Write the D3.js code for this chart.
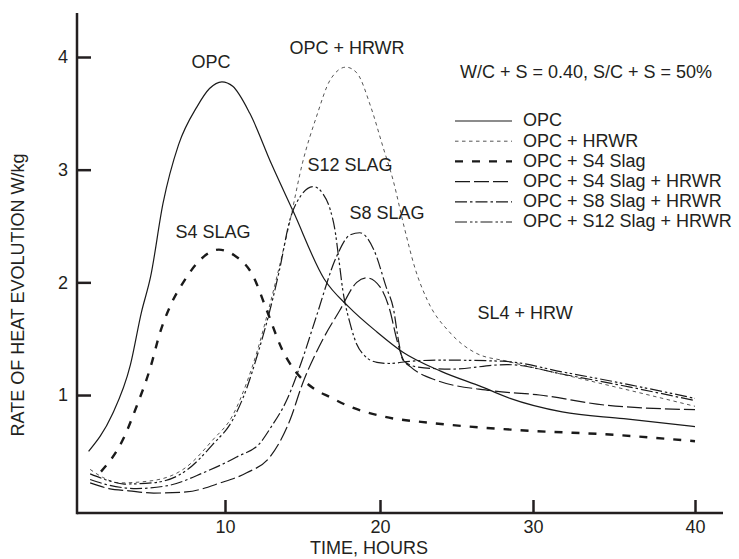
<!DOCTYPE html>
<html>
<head>
<meta charset="utf-8">
<script src="https://cdn.jsdelivr.net/npm/d3@7/dist/d3.min.js"></script>
<style>
  html, body { margin: 0; padding: 0; background: #fff; }
  svg text { font-family: "Liberation Sans", Arial, Helvetica, sans-serif; font-size: 18px; fill: #231f20; }
</style>
</head>
<body>
<svg id="chart" width="739" height="559"></svg>
<script>
// Rate of heat evolution (W/kg) against time (hours), as [hour, value] pairs
const opc = [[1.2,0.50],[2.7,0.82],[3.9,1.27],[4.6,1.73],[5.2,2.05],[6.0,2.70],[7.0,3.22],[8.2,3.56],[9.0,3.72],[9.8,3.78],[10.5,3.74],[11.6,3.50],[13.0,3.05],[14.4,2.63],[16.4,2.03],[18.0,1.78],[19.8,1.56],[21.5,1.38],[24.0,1.21],[26.7,1.07],[28.5,0.97],[31.8,0.85],[35.6,0.79],[40.0,0.72]];
const opcHrwr = [[1.3,0.34],[2.1,0.27],[3.2,0.22],[5.3,0.24],[7.5,0.36],[9.2,0.60],[10.5,0.82],[11.4,1.11],[12.1,1.40],[12.7,1.70],[13.4,2.08],[14.2,2.55],[15.0,3.06],[15.9,3.47],[16.8,3.80],[17.8,3.91],[18.5,3.86],[19.4,3.56],[20.2,3.20],[20.85,2.91],[21.6,2.48],[22.3,2.12],[23.1,1.84],[24.6,1.55],[26.3,1.37],[28.3,1.30],[32.5,1.16],[36.0,1.04],[40.0,0.90]];
const opcS4 = [[2.0,0.32],[3.4,0.60],[4.3,0.90],[5.2,1.25],[5.8,1.55],[6.5,1.80],[7.4,2.02],[8.4,2.20],[9.6,2.29],[10.6,2.24],[11.8,2.06],[12.7,1.75],[13.7,1.40],[14.6,1.20],[15.7,1.06],[16.8,0.98],[18.0,0.90],[20.2,0.81],[23.5,0.75],[28.9,0.69],[35.2,0.645],[40.0,0.59]];
const opcS4Hrwr = [[1.3,0.22],[2.5,0.17],[3.8,0.15],[5.4,0.13],[7.5,0.14],[9.7,0.22],[11.4,0.31],[12.9,0.45],[14.2,0.78],[15.0,1.10],[16.3,1.49],[17.4,1.75],[18.5,2.00],[19.15,2.04],[20.0,1.96],[20.65,1.75],[21.1,1.49],[21.5,1.32],[22.0,1.25],[23.7,1.13],[27.2,1.04],[30.4,1.00],[34.5,0.91],[40.0,0.87]];
const opcS8Hrwr = [[1.3,0.25],[2.5,0.20],[4.3,0.17],[6.45,0.20],[8.6,0.31],[10.75,0.45],[12.3,0.58],[12.9,0.70],[14.0,0.96],[15.0,1.32],[15.9,1.70],[17.2,2.23],[18.06,2.42],[18.7,2.44],[19.6,2.29],[20.4,1.96],[20.9,1.75],[21.2,1.49],[21.5,1.31],[22.4,1.25],[24.6,1.23],[28.3,1.27],[32.0,1.18],[36.0,1.07],[40.0,0.95]];
const opcS12Hrwr = [[1.3,0.30],[2.5,0.24],[3.5,0.21],[5.3,0.22],[7.5,0.33],[9.2,0.56],[10.5,0.78],[11.4,1.06],[12.1,1.36],[12.8,1.70],[13.5,2.10],[14.2,2.56],[14.85,2.76],[15.7,2.85],[16.3,2.79],[16.8,2.64],[17.1,2.46],[17.35,2.20],[17.6,1.93],[18.06,1.64],[18.5,1.45],[19.0,1.35],[19.8,1.29],[20.6,1.28],[22.0,1.30],[24.0,1.31],[28.0,1.30],[32.0,1.20],[36.0,1.09],[40.0,0.97]];

// Legend entries, in drawing order
const seriesNames = ["OPC", "OPC + HRWR", "OPC + S4 Slag", "OPC + S4 Slag + HRWR", "OPC + S8 Slag + HRWR", "OPC + S12 Slag + HRWR"];
const seriesData = [opc, opcHrwr, opcS4, opcS4Hrwr, opcS8Hrwr, opcS12Hrwr];

// Axis ticks and titles
const xTickValues = [10, 20, 30, 40];
const yTickValues = [1, 2, 3, 4];
const xTitle = "TIME, HOURS";
const yTitle = "RATE OF HEAT EVOLUTION W/kg";
const mixNote = "W/C + S = 0.40, S/C + S = 50%";

// Curve call-outs, anchored in data units [hour, value]
const curveLabelText = ["OPC", "OPC + HRWR", "S12 SLAG", "S8 SLAG", "S4 SLAG", "SL4 + HRW"];
const curveLabelAt = [[9.1, 3.96], [17.87, 4.08], [18.06, 3.04], [20.46, 2.62], [9.23, 2.45], [29.48, 1.73]];

// Stroke styles per series
const styles = [
  { width: 1.2, dash: null,                 color: "#1a1a1a" },
  { width: 1.0, dash: "3.5,3.5",            color: "#555" },
  { width: 2.4, dash: "8,9",                color: "#1a1a1a" },
  { width: 1.2, dash: "15,4",               color: "#1a1a1a" },
  { width: 1.2, dash: "12,3,2.5,3",         color: "#1a1a1a" },
  { width: 1.2, dash: "12,3,2.5,2.5,2.5,3", color: "#1a1a1a" }
];

const svg = d3.select("#chart");
const axisColor = "#231f20";
const left = 77, baseY = 513, topY = 13, rightX = 723;

// Hour axis: piecewise linear through the tick marks
const x = d3.scaleLinear().domain(xTickValues).range([225, 380, 533, 695]);
const y = d3.scaleLinear().domain([0, 4]).range([507.7, 57]);

// Axes
const gx = svg.append("g").attr("transform", `translate(0,${baseY})`)
  .call(d3.axisBottom(x).tickValues(xTickValues).tickFormat(d3.format("d"))
    .tickSizeInner(-13).tickSizeOuter(0).tickPadding(7));
const gy = svg.append("g").attr("transform", `translate(${left},0)`)
  .call(d3.axisLeft(y).tickValues(yTickValues).tickFormat(d3.format("d"))
    .tickSizeInner(-14).tickSizeOuter(0).tickPadding(9));
[gx, gy].forEach(g => {
  g.select(".domain").remove();
  g.selectAll(".tick line").attr("stroke", axisColor).attr("stroke-width", 2.5);
  g.selectAll(".tick text").attr("font-size", 18).attr("font-family", null).style("fill", axisColor);
});
svg.append("line").attr("x1", left).attr("x2", rightX).attr("y1", baseY).attr("y2", baseY)
  .attr("stroke", axisColor).attr("stroke-width", 2.5);
svg.append("line").attr("x1", left).attr("x2", left).attr("y1", topY).attr("y2", baseY + 1.25)
  .attr("stroke", axisColor).attr("stroke-width", 2.5);

// Axis titles
svg.append("text").attr("x", 369).attr("y", 554).attr("text-anchor", "middle").text(xTitle);
svg.append("text").attr("transform", "translate(24,295) rotate(-90)").attr("text-anchor", "middle").text(yTitle);

// Curves
const line = d3.line().x(d => x(d[0])).y(d => y(d[1])).curve(d3.curveMonotoneX);
seriesData.forEach((data, i) => {
  const s = styles[i];
  svg.append("path").datum(data)
    .attr("d", line)
    .attr("fill", "none")
    .attr("stroke", s.color)
    .attr("stroke-width", s.width)
    .attr("stroke-dasharray", s.dash)
    .attr("stroke-linejoin", "round");
});

// Curve call-outs
curveLabelText.forEach((t, i) => {
  svg.append("text")
    .attr("x", x(curveLabelAt[i][0]))
    .attr("y", y(curveLabelAt[i][1]))
    .attr("dy", "0.35em")
    .attr("text-anchor", "middle")
    .text(t);
});

// Mix note and legend
svg.append("text").attr("x", 460).attr("y", 72).attr("dy", "0.35em").text(mixNote);
const legend = svg.append("g");
seriesNames.forEach((name, i) => {
  const s = styles[i];
  const ly = 120 + i * 20.2;
  legend.append("line").attr("x1", 455).attr("x2", 512).attr("y1", ly + 1).attr("y2", ly + 1)
    .attr("stroke", s.color).attr("stroke-width", s.width).attr("stroke-dasharray", s.dash);
  legend.append("text").attr("x", 523).attr("y", ly).attr("dy", "0.35em").text(name);
});
</script>
</body>
</html>
